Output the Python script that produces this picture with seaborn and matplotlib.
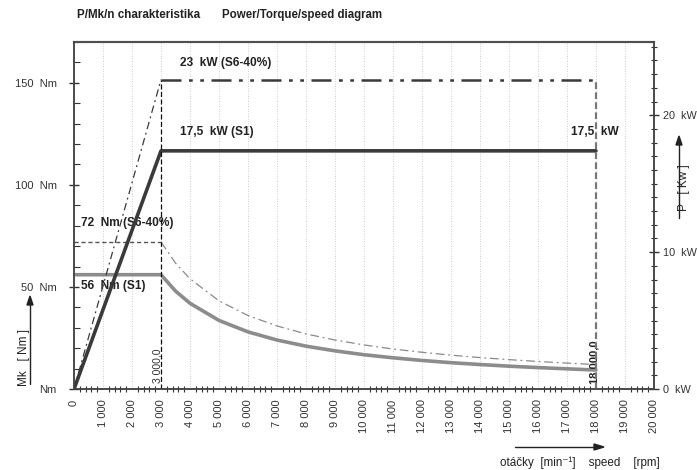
import matplotlib
matplotlib.use("Agg")
import matplotlib.pyplot as plt
from matplotlib.ticker import MultipleLocator
import seaborn as sns

# otacky / speed [rpm]
speed = [0, 3000, 3500, 4000, 5000, 6000, 7000, 8000, 9000, 10000,
         11000, 12000, 13000, 14000, 15000, 16000, 17000, 18000]
# Mk S1 [Nm]
torque_s1 = [56, 56, 48, 42, 33.6, 28, 24, 21, 18.7, 16.8,
             15.3, 14, 12.9, 12, 11.2, 10.5, 9.9, 9.3]
# Mk S6-40% [Nm]
torque_s6 = [72, 72, 61.7, 54, 43.2, 36, 30.9, 27, 24, 21.6,
             19.6, 18, 16.6, 15.4, 14.4, 13.5, 12.7, 12]

# vykon P [kW] (poloha car)
power_speed = [0, 3000, 18000]
power_s1 = [0, 17.4, 17.4]
power_s6 = [0, 22.6, 22.6]

x_ticks = list(range(0, 20001, 1000))
x_labels = ["0"] + [f"{v // 1000} 000" for v in x_ticks[1:]]
mk_ticks = [0, 50, 100, 150]
mk_labels = ["Nm", "50  Nm", "100  Nm", "150  Nm"]
p_ticks = [0, 10, 20]
p_labels = ["0  kW", "10  kW", "20  kW"]

sns.set_style("white")
plt.rcParams["font.family"] = ["Liberation Sans", "DejaVu Sans"]

dark = "#3a3a3a"
grey = "#8c8c8c"

fig = plt.figure(figsize=(6.97, 4.70), dpi=100)
ax = fig.add_axes([0.1062, 0.1723, 0.832, 0.7383])
ax2 = ax.twinx()

# * Mk krivky
sns.lineplot(x=speed, y=torque_s1, ax=ax, color=grey, lw=2.6,
             estimator=None, sort=False)
sns.lineplot(x=speed[:2], y=torque_s6[:2], ax=ax, color="#555555", lw=1.0,
             estimator=None, sort=False).lines[-1].set_dashes((3, 2))
ln = sns.lineplot(x=speed[1:], y=torque_s6[1:], ax=ax, color="#8a8a8a", lw=0.9,
                  estimator=None, sort=False).lines[-1]
ln.set_dashes((7, 3, 1.5, 3))

# * vykon krivky
sns.lineplot(x=power_speed, y=power_s1, ax=ax2, color=dark, lw=2.6,
             estimator=None, sort=False)
l1 = sns.lineplot(x=power_speed[:2], y=power_s6[:2], ax=ax2, color=dark, lw=0.9,
                  estimator=None, sort=False).lines[-1]
l1.set_dashes((6, 3, 1.5, 3))
l2 = sns.lineplot(x=power_speed[1:], y=power_s6[1:], ax=ax2, color=dark, lw=1.8,
                  estimator=None, sort=False).lines[-1]
l2.set_dashes((8, 3, 1.5, 3, 1.5, 3))

# * svisle cary 3000 a 18000
ax2.vlines(power_speed[1], 0, power_s6[1], color="#111111", lw=0.9,
           linestyles=(0, (4, 2)))
ax2.vlines(power_speed[2], 0, power_s6[2], color="#777777", lw=1.6,
           linestyles=(0, (3, 1.5)))

ax.set_xlim(0, 20000)
ax.set_ylim(0, 170)
ax2.set_ylim(0, 25.35)

ax.set_xticks(x_ticks)
ax.set_xticklabels(x_labels, rotation=90, fontsize=8, color="#333333")
ax.xaxis.set_minor_locator(MultipleLocator(200))
ax.set_yticks(mk_ticks)
ax.set_yticklabels(mk_labels, fontsize=8, color="#333333")
ax.yaxis.set_minor_locator(MultipleLocator(10))
ax2.set_yticks(p_ticks)
ax2.set_yticklabels(p_labels, fontsize=7.8, color="#333333")
ax2.yaxis.set_minor_locator(MultipleLocator(1))

ax.tick_params(axis="x", which="major", direction="inout", length=7, width=1, color="#333333", pad=4)
ax.tick_params(axis="x", which="minor", direction="inout", length=4, width=0.8, color="#333333", bottom=True)
ax.tick_params(axis="y", which="major", direction="inout", length=7, width=1, color="#333333", pad=9, left=True)
ax.tick_params(axis="y", which="minor", direction="in", length=4, width=0.8, color="#333333", left=True)
ax2.tick_params(axis="y", which="major", direction="inout", length=7, width=1, color="#333333", pad=3, right=True)
ax2.tick_params(axis="y", which="minor", direction="inout", length=4, width=0.8, color="#333333", right=True)

for v in x_ticks[1:-1]:
    ax.axvline(v, color="#bdbdbd", lw=0.6, ls=(0, (1, 2)), zorder=0)

for a in (ax, ax2):
    for s in a.spines.values():
        s.set_color("#444444")
        s.set_linewidth(1.1)
ax.spines["top"].set_color("#777777")
ax.spines["top"].set_linewidth(1.6)

# ? popisky
bold = dict(fontsize=8.6, fontweight="bold", color="#222222", va="center")
ax2.text(3650, 23.8, "23  kW (S6-40%)", **bold)
ax2.text(3650, 18.76, "17,5  kW (S1)", **bold)
ax2.text(17150, 18.76, "17,5  kW", **bold)
ax.text(250, 81.3, "72  Nm (S6-40%)", **bold)
ax.text(250, 50.4, "56  Nm (S1)", **bold)
ax.text(2880, 11.3, "3 000,0", rotation=90, fontsize=7.5, color="#333333",
        ha="center", va="center")
ax.text(17950, 13, "18 000,0", rotation=90, fontsize=8, fontweight="bold",
        color="#222222", ha="center", va="center")

fig.text(77 / 697, 1 - 15 / 470, "P/Mk/n charakteristika", fontsize=8.4,
         fontweight="bold", color="#222222", va="center")
fig.text(222 / 697, 1 - 15 / 470, "Power/Torque/speed diagram", fontsize=8.3,
         fontweight="bold", color="#222222", va="center")

# ? osy popisky se sipkami
fig.text(24 / 697, 1 - 357 / 470, "Mk   [ Nm ]", rotation=90, fontsize=8.5,
         color="#222222", ha="center", va="center")
fig.add_artist(plt.Line2D([30 / 697, 30 / 697], [1 - 384 / 470, 1 - 305 / 470],
                          color="#222222", lw=1))
fig.patches.append(plt.Polygon([[27 / 697, 1 - 305 / 470], [33 / 697, 1 - 305 / 470],
                                [30 / 697, 1 - 296 / 470]], closed=True,
                               color="#222222", transform=fig.transFigure))

fig.text(684 / 697, 1 - 188 / 470, "P   [ Kw ]", rotation=90, fontsize=8.5,
         color="#222222", ha="center", va="center")
fig.add_artist(plt.Line2D([679 / 697, 679 / 697], [1 - 218 / 470, 1 - 145 / 470],
                          color="#222222", lw=1))
fig.patches.append(plt.Polygon([[676 / 697, 1 - 145 / 470], [682 / 697, 1 - 145 / 470],
                                [679 / 697, 1 - 136 / 470]], closed=True,
                               color="#222222", transform=fig.transFigure))

fig.add_artist(plt.Line2D([515 / 697, 595 / 697], [1 - 447 / 470, 1 - 447 / 470],
                          color="#222222", lw=1))
fig.patches.append(plt.Polygon([[594 / 697, 1 - 444 / 470], [594 / 697, 1 - 450 / 470],
                                [604 / 697, 1 - 447 / 470]], closed=True,
                               color="#222222", transform=fig.transFigure))
fig.text(500 / 697, 1 - 463 / 470, "otáčky  [min⁻¹]    speed    [rpm]",
         fontsize=8.4, color="#222222", va="center")

fig.savefig("out.png", dpi=100)
